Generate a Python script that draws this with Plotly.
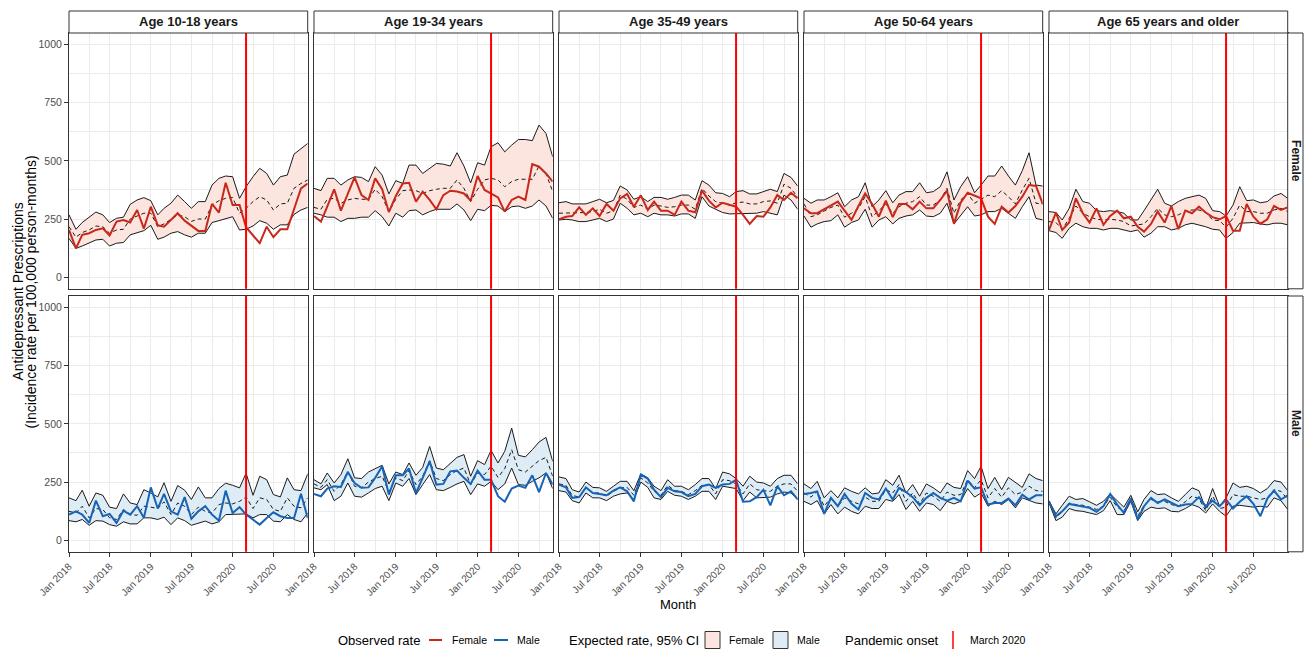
import plotly.graph_objects as go
import pandas as pd

# page body has an 8px margin: figure is placed at (8, 8) in the window
OFF = 8
W, H = 1296, 643
FONT = "Liberation Sans, Arial, sans-serif"

# ---------------- data ----------------
months = pd.date_range("2018-01-01", periods=36, freq="MS")
age_groups = ["Age 10-18 years", "Age 19-34 years", "Age 35-49 years",
              "Age 50-64 years", "Age 65 years and older"]
sexes = ["Female", "Male"]
x_tick_dates = ["2018-01-01", "2018-07-01", "2019-01-01", "2019-07-01", "2020-01-01", "2020-07-01"]
x_tick_labels = ["Jan 2018", "Jul 2018", "Jan 2019", "Jul 2019", "Jan 2020", "Jul 2020"]
x_minor_dates = ["2018-04-01", "2018-10-01", "2019-04-01", "2019-10-01", "2020-04-01", "2020-10-01"]
y_ticks = [0, 250, 500, 750, 1000]
y_minor = [125, 375, 625, 875]
onset = "2020-03-01"

# Female, 10-18
f1_obs = [203,124,182,189,203,210,179,239,246,235,289,209,303,223,217,246,275,243,220,199,199,315,278,406,310,310,215,180,146,217,172,206,206,292,382,403]
f1_exp = [217,172,192,203,220,217,189,203,206,250,263,275,275,217,229,250,268,260,240,250,250,310,329,339,343,275,296,325,346,332,289,315,318,382,403,418]
f1_lo = [167,124,134,146,160,163,134,146,149,182,192,200,223,163,172,189,196,182,172,189,189,235,243,253,260,203,206,220,243,232,206,225,225,270,289,300]
f1_hi = [268,206,235,258,280,268,235,253,258,313,332,342,329,268,296,318,353,325,296,325,325,396,425,435,432,339,389,432,468,446,396,432,439,529,554,575]
# Female, 19-34
f2_obs = [263,239,303,378,286,360,429,353,332,425,378,280,349,403,406,325,368,332,292,353,372,368,360,329,435,375,358,343,282,332,346,332,486,475,446,411]
f2_exp = [300,292,335,339,318,332,339,335,335,378,346,282,335,372,375,372,360,372,378,382,382,418,382,325,378,418,425,418,389,411,421,421,421,478,446,368]
f2_lo = [275,268,258,258,239,253,253,258,258,286,260,220,275,258,286,289,268,282,292,292,292,315,289,243,292,286,309,306,282,303,306,296,306,332,306,253]
f2_hi = [382,372,425,425,396,418,432,429,411,475,439,358,415,403,482,482,446,468,489,486,478,535,478,406,492,482,561,578,539,568,592,592,587,654,618,518]
# Female, 35-49
f3_obs = [249,260,263,300,268,296,263,315,286,339,358,303,352,289,325,286,286,268,325,286,279,372,329,300,320,310,303,268,229,263,260,300,353,332,363,339]
f3_exp = [275,275,278,275,278,282,292,275,285,353,335,300,310,292,310,306,300,303,310,310,292,382,349,325,318,310,320,323,315,315,325,328,318,400,382,343]
f3_lo = [246,249,246,239,239,246,253,239,250,318,296,268,275,260,275,268,268,263,272,272,253,346,306,292,278,272,272,275,275,275,282,275,268,353,332,292]
f3_hi = [320,325,315,315,315,325,335,320,330,392,375,335,346,325,343,343,335,343,353,353,332,415,396,363,360,346,368,372,358,358,368,378,368,446,429,392]
# Female, 50-64
f4_obs = [296,275,275,292,306,325,286,246,306,360,315,260,329,258,315,315,292,325,296,296,332,372,229,320,363,349,339,260,229,303,278,306,346,396,392,315]
f4_exp = [315,260,268,286,300,310,258,275,296,346,260,286,315,275,303,318,325,346,310,310,332,382,275,332,360,318,335,353,346,372,346,315,375,425,318,315]
f4_lo = [263,215,229,239,243,268,215,235,246,292,215,246,260,229,253,263,268,289,263,260,275,318,229,268,303,263,268,282,282,296,275,253,303,346,253,246]
f4_hi = [339,318,332,332,346,363,303,332,346,406,303,332,372,320,353,368,368,406,363,368,389,453,332,389,432,363,396,435,435,478,435,396,458,535,396,392]
# Female, 65+
f5_obs = [203,278,203,235,339,275,235,296,225,263,286,253,260,217,196,229,282,235,306,206,286,275,303,278,258,249,263,200,200,315,260,229,249,306,289,300]
f5_exp = [239,235,206,253,306,275,260,249,246,249,246,239,220,225,229,260,296,268,260,268,282,289,289,278,246,243,215,253,310,282,282,275,275,289,296,282]
f5_lo = [200,192,167,210,232,217,210,210,203,210,210,203,196,203,172,189,217,217,203,210,225,232,225,217,206,203,167,192,232,235,235,229,225,232,232,225]
f5_hi = [282,278,246,296,378,325,318,286,282,286,282,275,246,246,286,332,378,318,306,325,339,346,353,339,286,282,263,310,389,329,332,320,325,349,360,339]
# Male, 10-18
m1_obs = [110,124,110,74,170,103,113,74,127,110,146,96,227,136,199,124,110,185,92,124,146,110,84,213,117,142,110,90,67,95,120,103,95,95,200,95]
m1_exp = [124,117,146,96,136,132,96,89,132,110,107,146,142,136,165,110,160,146,110,142,124,117,153,160,156,167,185,136,182,175,132,124,182,146,139,182]
m1_lo = [84,79,89,64,84,82,67,60,79,70,70,96,96,89,99,67,96,84,64,74,82,70,79,110,110,113,113,96,110,110,82,79,110,89,79,117]
m1_hi = [182,170,215,146,203,193,142,136,199,160,153,217,203,186,247,167,235,215,175,229,182,182,222,245,236,225,288,193,275,260,196,186,268,217,213,285]
# Male, 19-34
m2_obs = [199,189,222,232,229,293,246,225,227,268,318,196,279,279,308,203,268,339,239,242,296,299,268,242,299,260,260,189,165,222,235,225,279,207,289,239]
m2_exp = [242,227,260,210,239,296,232,225,250,265,275,207,268,256,299,239,275,342,265,256,282,299,310,239,289,282,318,270,308,389,303,293,318,342,356,275]
m2_lo = [225,217,239,170,189,246,189,185,203,222,232,170,246,232,265,196,239,282,217,213,227,242,253,196,242,232,253,217,242,310,239,236,253,268,289,222]
m2_hi = [260,242,289,246,282,350,268,265,293,308,322,242,293,282,332,279,313,403,310,303,332,356,368,275,342,325,386,332,382,482,365,358,389,422,442,339]
# Male, 35-49
m3_obs = [239,227,182,185,227,203,199,193,213,227,210,167,282,265,217,185,225,210,207,189,199,232,239,225,239,242,260,165,167,185,217,150,232,193,210,175]
m3_exp = [242,236,193,185,227,203,203,189,210,225,227,193,268,246,210,193,236,213,210,196,213,236,239,199,260,256,242,199,242,217,213,210,232,242,242,210]
m3_lo = [213,207,170,160,203,182,182,170,189,199,203,175,250,227,182,175,210,193,189,175,189,210,210,175,232,227,222,170,207,182,182,185,199,207,203,175]
m3_hi = [272,265,217,207,250,227,225,210,232,253,253,213,285,268,232,213,260,232,232,217,239,265,265,222,293,285,265,232,275,250,246,232,265,279,279,242]
# Male, 50-64
m4_obs = [199,203,210,113,182,146,199,156,132,203,182,175,222,175,225,207,185,150,182,203,182,170,182,167,256,222,227,153,160,160,179,150,196,175,193,193]
m4_exp = [203,185,210,146,182,146,182,167,156,185,167,167,217,203,239,167,203,156,203,189,167,207,193,196,260,225,260,182,222,185,225,196,207,232,213,210]
m4_lo = [167,153,170,113,153,113,142,124,113,146,136,136,175,167,196,132,167,124,160,153,127,167,156,167,222,185,203,146,167,153,175,139,182,170,160,156]
m4_hi = [242,222,253,182,213,182,225,210,199,225,199,203,260,236,279,203,239,189,242,225,203,246,227,222,299,265,318,222,270,217,270,250,227,285,265,256]
# Male, 65+
m5_obs = [165,103,124,156,150,146,139,122,146,199,153,117,179,89,146,182,160,175,160,146,153,156,185,146,170,146,175,136,165,189,156,103,179,213,175,193]
m5_exp = [165,96,122,160,153,150,142,132,146,185,142,124,182,103,150,175,165,167,153,146,165,189,179,127,189,136,142,196,189,189,182,175,182,217,210,175]
m5_lo = [160,84,99,136,127,124,117,110,127,170,110,110,167,84,124,142,136,139,124,122,136,153,142,117,156,124,103,146,150,146,142,146,142,182,170,132]
m5_hi = [170,113,150,189,175,179,165,150,167,199,170,142,193,122,175,213,196,199,182,167,196,225,213,136,222,146,182,246,227,232,222,203,222,256,250,213]

panel_data = {
    "Female": [(f1_obs, f1_exp, f1_lo, f1_hi), (f2_obs, f2_exp, f2_lo, f2_hi),
               (f3_obs, f3_exp, f3_lo, f3_hi), (f4_obs, f4_exp, f4_lo, f4_hi),
               (f5_obs, f5_exp, f5_lo, f5_hi)],
    "Male": [(m1_obs, m1_exp, m1_lo, m1_hi), (m2_obs, m2_exp, m2_lo, m2_hi),
             (m3_obs, m3_exp, m3_lo, m3_hi), (m4_obs, m4_exp, m4_lo, m4_hi),
             (m5_obs, m5_exp, m5_lo, m5_hi)],
}

# ---------------- styles ----------------
obs_col = {"Female": "#C8281C", "Male": "#1763B5"}
band_col = {"Female": "#FBE5DE", "Male": "#DEECF5"}
bound_col = "#1A1A1A"
onset_col = "#FF0000"
grid_col = "#EBEBEB"
border_col = "#333333"
tick_col = "#4D4D4D"

# geometry in window pixels
col_x0 = [69, 314, 559, 804, 1049]
panel_w = 238.7
row_y0 = [33, 296]
panel_h = 255.8
strip_top = 11
right_strip_x1 = 1303


def px(x):
    return (x - OFF) / W


def py(y):
    return 1 - (y - OFF) / H


fig = go.Figure()
layout = dict(
    template="none",
    width=W, height=H, margin=dict(l=0, r=0, t=0, b=0, pad=0, autoexpand=False),
    paper_bgcolor="white", plot_bgcolor="white",
    showlegend=False, font=dict(family=FONT, color="black"),
)
shapes = []
annotations = []

for r, sex in enumerate(sexes):
    for c, age in enumerate(age_groups):
        i = r * 5 + c + 1
        sfx = "" if i == 1 else str(i)
        xa, ya = "x" + sfx, "y" + sfx
        obs, exp, lo, hi = panel_data[sex][c]
        common = dict(x=months, xaxis=xa, yaxis=ya, hoverinfo="skip", showlegend=False)
        fig.add_trace(go.Scatter(y=lo, mode="lines", line=dict(width=0), **common))
        fig.add_trace(go.Scatter(y=hi, mode="lines", line=dict(width=0), fill="tonexty",
                                 fillcolor=band_col[sex], **common))
        fig.add_trace(go.Scatter(y=lo, mode="lines", line=dict(color=bound_col, width=1), **common))
        fig.add_trace(go.Scatter(y=hi, mode="lines", line=dict(color=bound_col, width=1), **common))
        fig.add_trace(go.Scatter(y=exp, mode="lines",
                                 line=dict(color=bound_col, width=1, dash="4px,3px"), **common))
        fig.add_trace(go.Scatter(y=obs, mode="lines", line=dict(color=obs_col[sex], width=2), **common))

        x0 = col_x0[c]
        y0 = row_y0[r]
        layout["xaxis" + sfx] = dict(
            domain=[px(x0), px(x0 + panel_w)], anchor=ya, type="date",
            range=["2018-01-01", "2020-12-01"], automargin=False,
            tickmode="array", tickvals=x_tick_dates, ticktext=x_tick_labels,
            showticklabels=(r == 1), tickangle=-45,
            ticks="outside" if r == 1 else "", ticklen=4, tickwidth=1, tickcolor=border_col,
            tickfont=dict(size=10, color=tick_col, family=FONT),
            showgrid=True, gridcolor=grid_col, gridwidth=1.1,
            minor=dict(tickmode="array", tickvals=x_minor_dates, showgrid=True,
                       gridcolor=grid_col, gridwidth=0.6, ticks=""),
            showline=True, mirror=True, linecolor=border_col, linewidth=1,
            zeroline=False, fixedrange=True,
        )
        layout["yaxis" + sfx] = dict(
            domain=[py(y0 + panel_h), py(y0)], anchor=xa, automargin=False,
            range=[-50, 1050], tickmode="array", tickvals=y_ticks,
            showticklabels=(c == 0),
            ticks="outside" if c == 0 else "", ticklen=4, tickwidth=1, tickcolor=border_col,
            tickfont=dict(size=10.5, color=tick_col, family=FONT),
            showgrid=True, gridcolor=grid_col, gridwidth=1.1,
            minor=dict(tickmode="array", tickvals=y_minor, showgrid=True,
                       gridcolor=grid_col, gridwidth=0.6, ticks=""),
            showline=True, mirror=True, linecolor=border_col, linewidth=1,
            zeroline=False, fixedrange=True,
        )
        shapes.append(dict(type="line", xref=xa, yref=ya + " domain", x0=onset, x1=onset,
                           y0=0, y1=1, line=dict(color=onset_col, width=2), layer="above"))

# top strips
for c, age in enumerate(age_groups):
    x0 = col_x0[c]
    shapes.append(dict(type="rect", xref="paper", yref="paper", x0=px(x0), x1=px(x0 + panel_w),
                       y0=py(row_y0[0]), y1=py(strip_top), fillcolor="white",
                       line=dict(color=border_col, width=1)))
    annotations.append(dict(text="<b>" + age + "</b>", xref="paper", yref="paper",
                            x=px(x0 + panel_w / 2), y=py((strip_top + row_y0[0]) / 2),
                            showarrow=False, font=dict(size=13, color="#1A1A1A", family=FONT),
                            xanchor="center", yanchor="middle"))
# right strips
rx0 = col_x0[4] + panel_w
for r, sex in enumerate(sexes):
    y0 = row_y0[r]
    shapes.append(dict(type="rect", xref="paper", yref="paper", x0=px(rx0), x1=px(right_strip_x1),
                       y0=py(y0 + panel_h), y1=py(y0), fillcolor="white",
                       line=dict(color=border_col, width=1)))
    annotations.append(dict(text="<b>" + sex + "</b>", xref="paper", yref="paper",
                            x=px((rx0 + right_strip_x1) / 2 + 0.5), y=py(y0 + panel_h / 2),
                            showarrow=False, textangle=90,
                            font=dict(size=12, color="#1A1A1A", family=FONT),
                            xanchor="center", yanchor="middle"))

# axis titles
annotations.append(dict(text="Month", xref="paper", yref="paper", x=px(678), y=py(604),
                        showarrow=False, font=dict(size=13, color="black", family=FONT),
                        xanchor="center", yanchor="middle"))
for txt, xc in (("Antidepressant Prescriptions", 17.5),
                ("(Incidence rate per 100,000 person-months)", 30.5)):
    annotations.append(dict(text=txt, xref="paper", yref="paper", x=px(xc), y=py(292),
                            textangle=-90, showarrow=False,
                            font=dict(size=14, color="black", family=FONT),
                            xanchor="center", yanchor="middle"))

# manual legend
ly = 640


def leg_text(txt, x, size):
    annotations.append(dict(text=txt, xref="paper", yref="paper", x=px(x), y=py(ly),
                            showarrow=False, font=dict(size=size, color="black", family=FONT),
                            xanchor="left", yanchor="middle"))


leg_text("Observed rate", 336, 13)
shapes.append(dict(type="line", xref="paper", yref="paper", x0=px(429), x1=px(442), y0=py(ly), y1=py(ly),
                   line=dict(color=obs_col["Female"], width=2)))
leg_text("Female", 450, 10.5)
shapes.append(dict(type="line", xref="paper", yref="paper", x0=px(494), x1=px(508), y0=py(ly), y1=py(ly),
                   line=dict(color=obs_col["Male"], width=2)))
leg_text("Male", 515, 10.5)
leg_text("Expected rate, 95% CI", 567, 13)
shapes.append(dict(type="rect", xref="paper", yref="paper", x0=px(705), x1=px(720), y0=py(ly + 8.5),
                   y1=py(ly - 8.5), fillcolor=band_col["Female"], line=dict(color="#333333", width=1)))
leg_text("Female", 727, 10.5)
shapes.append(dict(type="rect", xref="paper", yref="paper", x0=px(773), x1=px(788), y0=py(ly + 8.5),
                   y1=py(ly - 8.5), fillcolor=band_col["Male"], line=dict(color="#333333", width=1)))
leg_text("Male", 795, 10.5)
leg_text("Pandemic onset", 843, 13)
shapes.append(dict(type="line", xref="paper", yref="paper", x0=px(953), x1=px(953), y0=py(ly + 9),
                   y1=py(ly - 9), line=dict(color=onset_col, width=1.5)))
leg_text("March 2020", 968, 10.5)

layout["shapes"] = shapes
layout["annotations"] = annotations
fig.update_layout(**layout)
fig.write_html("out.html")
